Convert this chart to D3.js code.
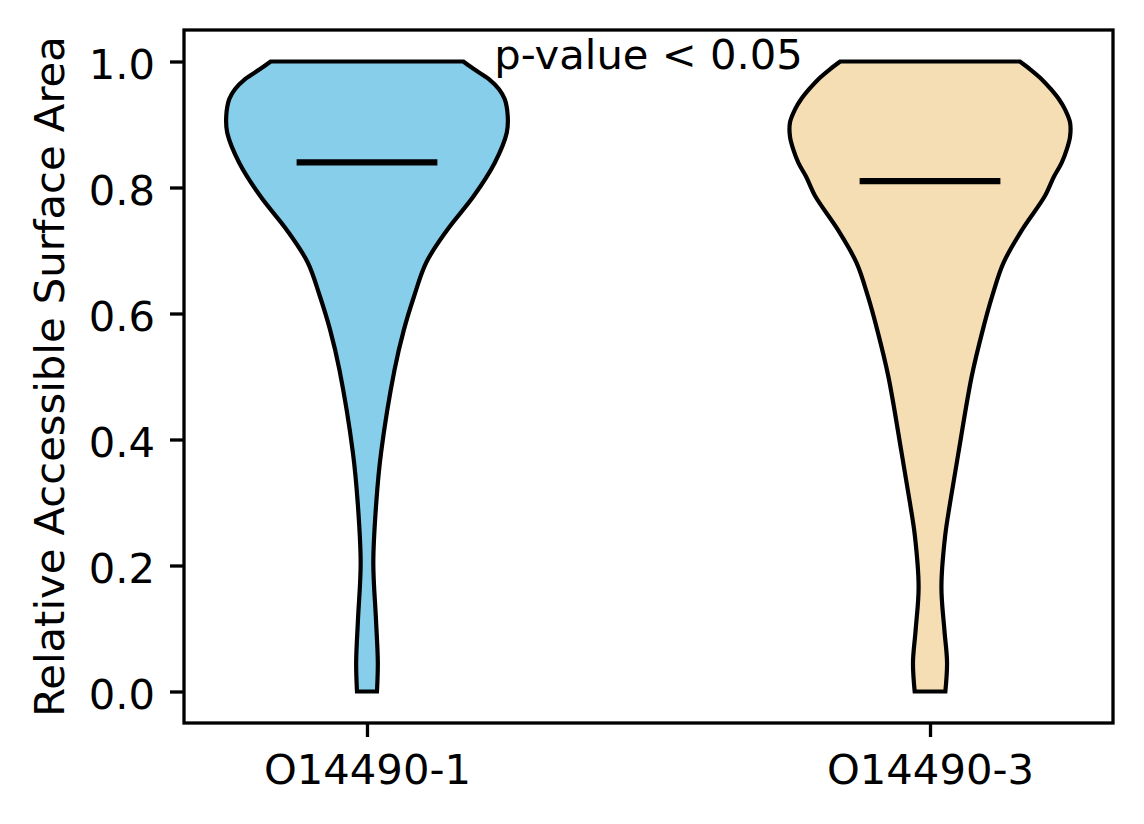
<!DOCTYPE html>
<html>
<head>
<meta charset="utf-8">
<script src="https://cdn.jsdelivr.net/npm/d3@7"></script>
<style>
  html, body { margin: 0; padding: 0; background: #fff; }
  svg { display: block; }
  text { font-family: "DejaVu Sans", sans-serif; fill: #000; }
</style>
</head>
<body>
<svg id="chart" width="1144" height="824"></svg>
<script>
// ---- Data ----
const categories = ["O14490-1", "O14490-3"];
const fillColors = ["#87CEEB", "#F5DEB3"];
const means = [0.84, 0.81];

// KDE profile for each group: value along y, relative density (max = 1)
const profileValues1 = [0, 0.046, 0.114, 0.204, 0.30, 0.379, 0.511, 0.574, 0.627, 0.681, 0.733, 0.786, 0.839, 0.887, 0.913, 0.940, 0.956, 0.972, 0.988, 1.0];
const profileDensity1 = [0.071, 0.077, 0.064, 0.045, 0.066, 0.100, 0.196, 0.262, 0.334, 0.421, 0.571, 0.757, 0.907, 0.993, 1.0, 0.979, 0.938, 0.866, 0.759, 0.684];

const profileValues2 = [0, 0.046, 0.098, 0.166, 0.246, 0.30, 0.379, 0.50, 0.574, 0.627, 0.68, 0.733, 0.786, 0.817, 0.839, 0.860, 0.881, 0.903, 0.924, 0.940, 0.956, 0.972, 0.988, 1.0];
const profileDensity2 = [0.109, 0.121, 0.102, 0.081, 0.107, 0.143, 0.202, 0.296, 0.375, 0.441, 0.521, 0.655, 0.815, 0.88, 0.935, 0.971, 0.995, 0.995, 0.959, 0.916, 0.859, 0.793, 0.709, 0.638];

const yTicks = [0.0, 0.2, 0.4, 0.6, 0.8, 1.0];
const annotation = "p-value < 0.05";
const yLabel = "Relative Accessible Surface Area";

// ---- Layout ----
const svg = d3.select("#chart");
const W = 1144, H = 824;
const plot = { left: 184, right: 1113, top: 30, bottom: 723 };
const fontSize = 41.7;
const violinHalfWidth = 0.25;   // in x-data units (widths = 0.5)
const meanHalfWidth = 0.125;

svg.append("rect").attr("width", W).attr("height", H).attr("fill", "#fff");

const x = d3.scaleLinear().domain([0.675, 2.325]).range([plot.left, plot.right]);
const y = d3.scaleLinear().domain([-0.05, 1.05]).range([plot.bottom, plot.top]);

const profiles = [
  profileValues1.map((v, i) => ({ v, d: profileDensity1[i] })),
  profileValues2.map((v, i) => ({ v, d: profileDensity2[i] }))
];

const g = svg.append("g");

profiles.forEach((prof, i) => {
  const pos = i + 1;
  const area = d3.area()
    .y(d => y(d.v))
    .x0(d => x(pos - d.d * violinHalfWidth))
    .x1(d => x(pos + d.d * violinHalfWidth))
    .curve(d3.curveCatmullRom.alpha(0.5));
  g.append("path")
    .datum(prof)
    .attr("d", area)
    .attr("fill", fillColors[i])
    .attr("stroke", "#000")
    .attr("stroke-width", 4.2)
    .attr("stroke-linejoin", "miter");
  // mean line
  g.append("line")
    .attr("x1", x(pos - meanHalfWidth))
    .attr("x2", x(pos + meanHalfWidth))
    .attr("y1", y(means[i]))
    .attr("y2", y(means[i]))
    .attr("stroke", "#000")
    .attr("stroke-width", 6.2);
});

// annotation
svg.append("text")
  .attr("x", x(1.5))
  .attr("y", y(1.0) + 7)
  .attr("text-anchor", "middle")
  .attr("font-size", fontSize)
  .text(annotation);

// ---- Axes ----
const yAxis = d3.axisLeft(y)
  .tickValues(yTicks)
  .tickFormat(d3.format(".1f"))
  .tickSize(14)
  .tickPadding(15);
const yG = svg.append("g").attr("transform", `translate(${plot.left},0)`).call(yAxis);

const xAxis = d3.axisBottom(x)
  .tickValues([1, 2])
  .tickFormat((d, i) => categories[i])
  .tickSize(14)
  .tickPadding(15);
const xG = svg.append("g").attr("transform", `translate(0,${plot.bottom})`).call(xAxis);

[yG, xG].forEach(a => {
  a.select(".domain").remove();
  a.selectAll(".tick line").attr("stroke", "#000").attr("stroke-width", 3.3);
  a.selectAll(".tick text")
    .attr("font-size", fontSize)
    .attr("font-family", "DejaVu Sans, sans-serif")
    .attr("fill", "#000");
});
yG.selectAll(".tick text").attr("dy", null).attr("dominant-baseline", "central").attr("dy", "0.05em");
xG.selectAll(".tick text").attr("dy", "0.76em");

// frame
svg.append("rect")
  .attr("x", plot.left).attr("y", plot.top)
  .attr("width", plot.right - plot.left)
  .attr("height", plot.bottom - plot.top)
  .attr("fill", "none")
  .attr("stroke", "#000")
  .attr("stroke-width", 3.3);

// y label
svg.append("text")
  .attr("transform", `translate(63.5, ${(plot.top + plot.bottom) / 2}) rotate(-90)`)
  .attr("text-anchor", "middle")
  .attr("font-size", fontSize)
  .text(yLabel);
</script>
</body>
</html>
